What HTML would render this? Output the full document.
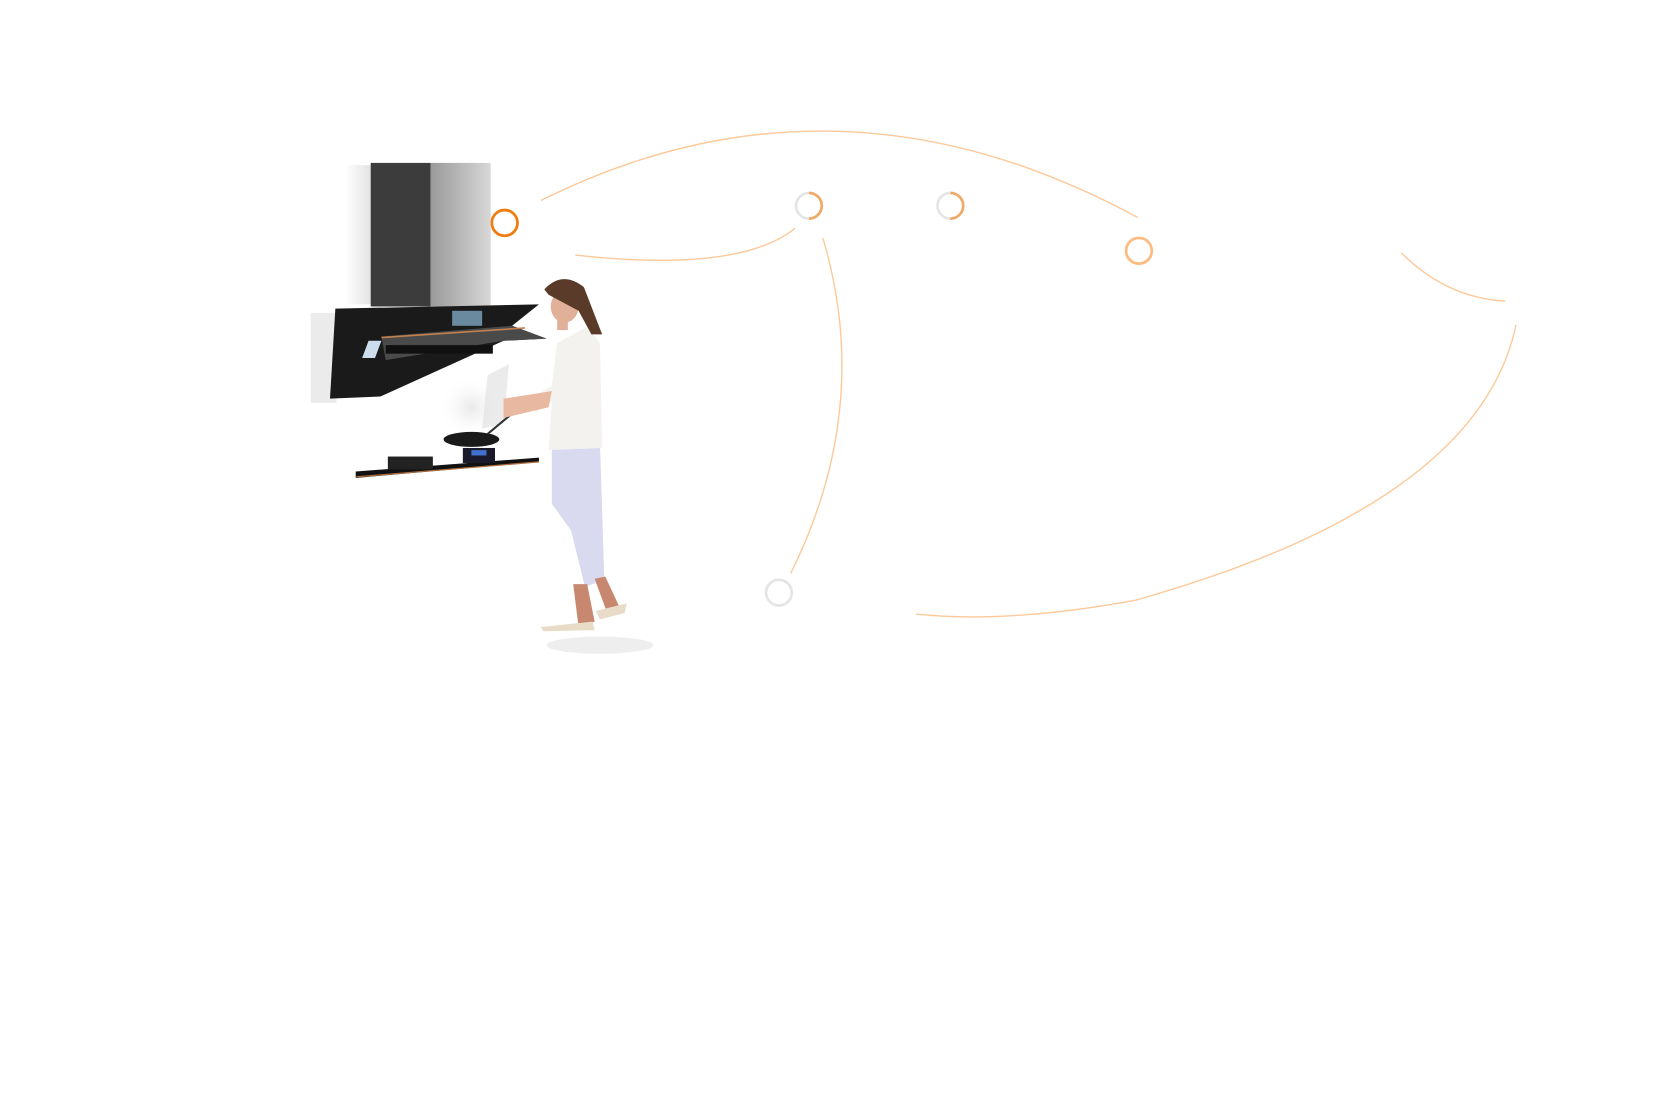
<!DOCTYPE html>
<html><head><meta charset="utf-8"><style>
html,body{margin:0;padding:0;background:#fff;}
svg{display:block;}
</style></head><body>
<svg width="1680" height="1106" viewBox="0 0 1568 1032" preserveAspectRatio="none" xmlns="http://www.w3.org/2000/svg">
<defs>
<linearGradient id="ch" x1="0" x2="1"><stop offset="0" stop-color="#9a9a9a"/><stop offset="0.5" stop-color="#b8b8b8"/><stop offset="1" stop-color="#d8d8d8"/></linearGradient>
<linearGradient id="sh" x1="0" x2="1"><stop offset="0" stop-color="#fff"/><stop offset="1" stop-color="#ccc"/></linearGradient>
<radialGradient id="smoke"><stop offset="0" stop-color="#e8e8e8"/><stop offset="1" stop-color="#fff" stop-opacity="0"/></radialGradient>
</defs>
<g fill="none" stroke="#fcc999" stroke-width="1.3">
<path d="M505,187 Q780,50 1062,203"/>
<path d="M537,238 Q690,255 742,213"/>
<path d="M768,222 Q815,380 738,535"/>
<path d="M1308,236 Q1350,278 1405,281"/>
<path d="M1415,303 Q1380,470 1060,560 Q940,582 855,573"/>
</g>
<circle cx="471" cy="208" r="12" fill="none" stroke="#f07d10" stroke-width="2.6"/>
<circle cx="755" cy="192" r="12" fill="none" stroke="#e5e5e5" stroke-width="2.5"/>
<path d="M755,180 A12,12 0 0 1 755,204" fill="none" stroke="#eeaa66" stroke-width="2.5"/>
<circle cx="887" cy="192" r="12" fill="none" stroke="#e5e5e5" stroke-width="2.5"/>
<path d="M887,180 A12,12 0 0 1 887,204" fill="none" stroke="#eeaa66" stroke-width="2.5"/>
<circle cx="1063" cy="234" r="12" fill="none" stroke="#fdbb80" stroke-width="2.5"/>
<circle cx="727" cy="553" r="12" fill="none" stroke="#e5e5e5" stroke-width="2.5"/>
<rect x="322" y="154" width="26" height="130" fill="url(#sh)" opacity="0.6"/>
<rect x="346" y="152" width="56" height="134" fill="#3c3c3c"/>
<rect x="402" y="152" width="56" height="134" fill="url(#ch)"/>
<rect x="290" y="292" width="24" height="84" fill="#ddd" opacity="0.6"/>
<polygon points="313,288 503,284 478,304 510,316 470,318 355,370 308,372" fill="#1a1a1a"/>
<polygon points="356,314 478,304 510,316 470,318 360,336" fill="#4a4a4a"/>
<line x1="356" y1="315" x2="490" y2="306" stroke="#c08050" stroke-width="1.5"/>
<rect x="422" y="290" width="28" height="14" fill="#6a8aa0"/>
<rect x="360" y="322" width="100" height="8" fill="#111"/>
<polygon points="344,318 356,318 350,334 338,334" fill="#cde"/>
<ellipse cx="440" cy="380" rx="32" ry="30" fill="url(#smoke)"/>
<polygon points="455,350 475,340 470,395 450,400" fill="#ddd" opacity="0.6"/>
<polygon points="332,440 503,427 503,431 332,446" fill="#111"/>
<line x1="332" y1="445" x2="503" y2="431" stroke="#b07040" stroke-width="1.2"/>
<rect x="362" y="426" width="42" height="12" fill="#222"/>
<rect x="432" y="418" width="30" height="14" fill="#1a1a2a"/>
<rect x="440" y="420" width="14" height="5" fill="#4070d0"/>
<ellipse cx="440" cy="410" rx="26" ry="7" fill="#1a1a1a"/>
<line x1="455" y1="405" x2="485" y2="380" stroke="#333" stroke-width="2"/>
<ellipse cx="560" cy="602" rx="50" ry="8" fill="#eee"/>
<path d="M515,418 L560,414 L564,540 L546,548 L533,495 L515,470 Z" fill="#d9d9ef"/>
<path d="M520,320 L548,305 L560,320 L562,418 L512,420 L515,375 L500,385 L496,372 L515,360 Z" fill="#f4f2ee"/>
<path d="M470,372 L515,365 L512,380 L470,390 Z" fill="#e8b8a0"/>
<path d="M535,545 L548,545 L555,580 L540,585 Z" fill="#c88870"/>
<path d="M555,540 L565,538 L578,566 L566,570 Z" fill="#c88870"/>
<path d="M505,585 L553,580 L555,588 L507,589 Z" fill="#e8dcc8"/>
<path d="M556,570 L585,563 L583,572 L560,578 Z" fill="#e8dcc8"/>
<ellipse cx="527" cy="286" rx="13" ry="15" fill="#e0b098"/>
<path d="M508,270 Q525,252 545,268 L562,312 L552,312 L540,290 L512,275 Z" fill="#5a3a28"/>
<rect x="520" y="296" width="10" height="12" fill="#e0b098"/>
</svg>
</body></html>
